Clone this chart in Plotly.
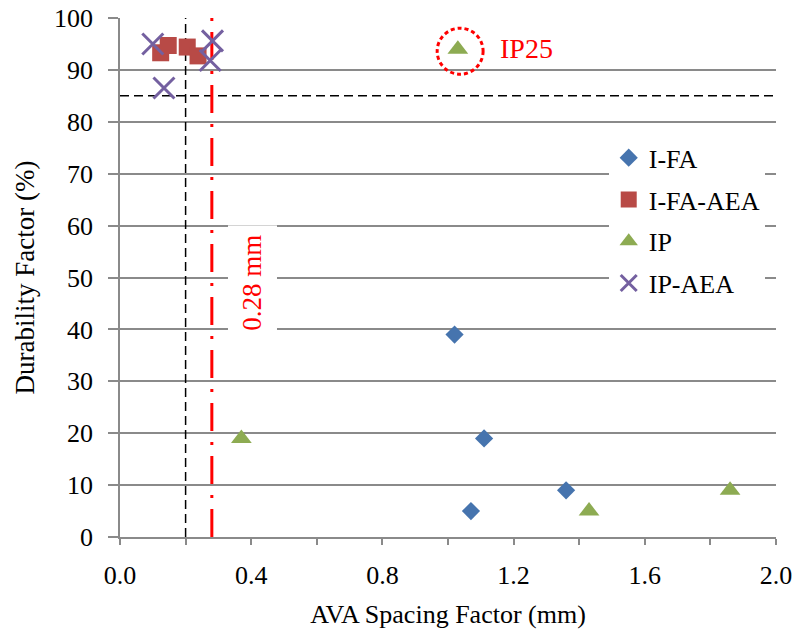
import plotly.graph_objects as go

# ---- data ----
ifa_x = [1.02, 1.11, 1.07, 1.36]
ifa_y = [39, 19, 5, 9]

ifa_aea_x = [0.124, 0.147, 0.205, 0.238]
ifa_aea_y = [93.3, 94.7, 94.4, 92.7]

ip_x = [0.37, 1.03, 1.43, 1.86]
ip_y = [19, 94, 5, 9]

ip_aea_x = [0.10, 0.282, 0.275, 0.134]
ip_aea_y = [95.0, 95.6, 91.8, 86.5]

x_tick_vals = [0.0, 0.4, 0.8, 1.2, 1.6, 2.0]
x_tick_text = ["0.0", "0.4", "0.8", "1.2", "1.6", "2.0"]
y_tick_vals = list(range(0, 101, 10))

limit_spacing = 0.28
ref_spacing = 0.2
ref_df = 85

FONT = "Liberation Serif"
GRID = "#8a8a8a"

fig = go.Figure()
fig.add_trace(go.Scatter(x=ifa_x, y=ifa_y, mode="markers", name="I-FA", legendgroup="a",
                         marker=dict(symbol="diamond", size=14, color="#4674AE")))
fig.add_trace(go.Scatter(x=ifa_aea_x, y=ifa_aea_y, mode="markers", name="I-FA-AEA", legendgroup="b",
                         marker=dict(symbol="square", size=17, color="#B84A46")))
fig.add_trace(go.Scatter(x=ip_x, y=ip_y, mode="markers", name="IP", legendgroup="c",
                         marker=dict(symbol="triangle-up", size=18, color="#8DAB52")))
fig.add_trace(go.Scatter(x=ip_aea_x, y=ip_aea_y, mode="markers", name="IP-AEA", legendgroup="d",
                         marker=dict(symbol="x-thin", size=21, line=dict(color="#7460A0", width=3),
                                     color="#7460A0")))

# reference lines
fig.add_shape(type="line", x0=ref_spacing, x1=ref_spacing, y0=0, y1=100, layer="between",
              line=dict(color="black", width=1.5, dash="9px,5px"))
fig.add_shape(type="line", x0=0, x1=2.0, y0=ref_df, y1=ref_df, layer="between",
              line=dict(color="black", width=1.5, dash="9px,5px"))
fig.add_shape(type="line", x0=limit_spacing, x1=limit_spacing, y0=0, y1=100, layer="between",
              line=dict(color="#FF0000", width=3, dash="28px,11px,3px,11px"))
# dotted circle around IP25
fig.add_shape(type="circle", x0=1.037 - 0.070, x1=1.037 + 0.070, y0=93.6 - 4.43, y1=93.6 + 4.43,
              layer="above", line=dict(color="#FF0000", width=3, dash="4px,3px"))

fig.add_annotation(x=1.24, y=94.2, text="IP25", showarrow=False,
                   font=dict(family=FONT, size=28, color="#FF0000"))
fig.add_annotation(x=0.403, y=49, text="0.28 mm", showarrow=False, textangle=-90,
                   bgcolor="white", borderpad=9,
                   font=dict(family=FONT, size=27, color="#FF0000"))

fig.update_layout(
    width=798, height=630,
    margin=dict(l=120, r=22, t=18, b=93, autoexpand=False),
    paper_bgcolor="white", plot_bgcolor="white",
    font=dict(family=FONT, size=26, color="black"),
    legend=dict(x=0.745, y=0.776, xanchor="left", yanchor="top", bgcolor="white",
                font=dict(family=FONT, size=26), tracegroupgap=5, itemwidth=30),
    xaxis=dict(range=[0, 2.0], tickvals=x_tick_vals, ticktext=x_tick_text, automargin=False,
               ticks="outside", ticklen=6, tickcolor=GRID, tickwidth=1.5, ticklabelstandoff=8,
               minor=dict(dtick=0.2, ticks="outside", ticklen=6, tickcolor=GRID, tickwidth=1.5),
               showgrid=False, zeroline=False, showline=True, linecolor=GRID, linewidth=1.5,
               title=dict(text="AVA Spacing Factor (mm)", font=dict(family=FONT, size=26), standoff=16),
               tickfont=dict(family=FONT, size=26)),
    yaxis=dict(range=[0, 100], tickvals=y_tick_vals, automargin=False,
               ticks="outside", ticklen=10, tickcolor=GRID, tickwidth=1.5, ticklabelstandoff=10,
               showgrid=True, gridcolor=GRID, gridwidth=1.5,
               zeroline=False, showline=True, linecolor=GRID, linewidth=1.5,
               title=dict(text="Durability Factor (%)", font=dict(family=FONT, size=27), standoff=12),
               tickfont=dict(family=FONT, size=26)),
)

fig.write_html("out.html")
